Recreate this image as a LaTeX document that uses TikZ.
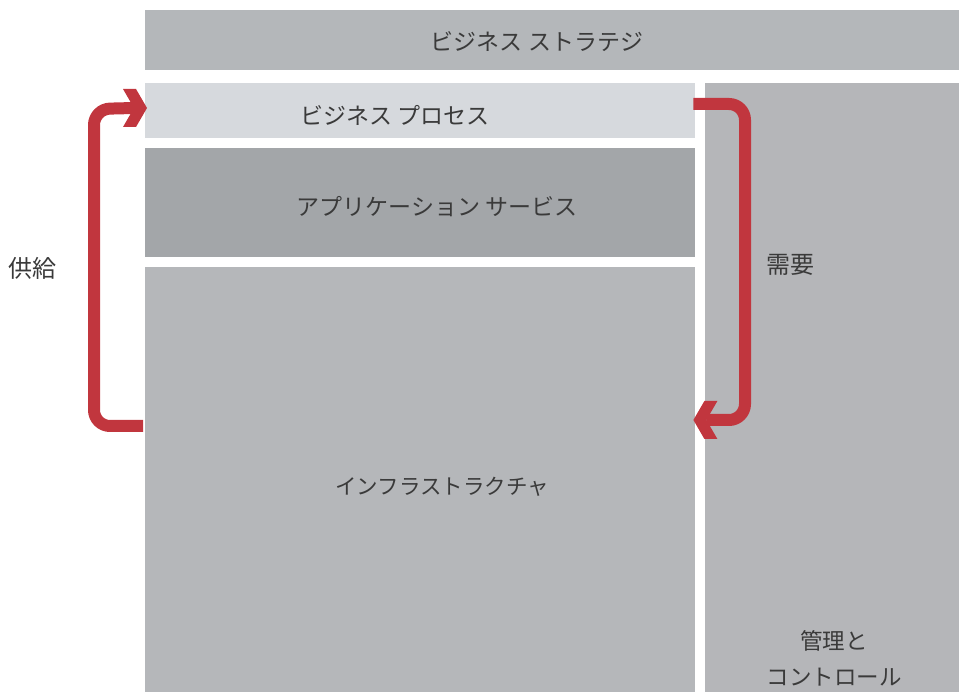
\documentclass[tikz,border=0pt]{standalone}
\usepackage{fontspec}
\newfontfamily\jpfont{Noto Sans CJK JP}
\usetikzlibrary{calc}
\definecolor{cTop}{HTML}{B4B7BA}
\definecolor{cProc}{HTML}{D6D9DD}
\definecolor{cApp}{HTML}{A3A6A9}
\definecolor{cInfra}{HTML}{B5B7BA}
\definecolor{cRight}{HTML}{B5B6B9}
\definecolor{cRed}{HTML}{C1363E}
\definecolor{cText}{HTML}{3A3A3A}
\tikzset{
  box/.style={draw=none, anchor=north west, inner sep=0pt},
  lbl/.style={font=\jpfont\fontsize{23pt}{36pt}\selectfont, text=cText, inner sep=0pt},
  midlbl/.style={font=\jpfont\fontsize{21.5pt}{36pt}\selectfont, text=cText, inner sep=0pt},
  biglbl/.style={font=\jpfont\fontsize{24pt}{30pt}\selectfont, text=cText, inner sep=0pt},
  flow/.style={draw=cRed, line width=12pt, rounded corners=16pt},
  headr/.style={fill=cRed, draw=none}
}
\begin{document}
\begin{tikzpicture}[x=1pt,y=-1pt]
\useasboundingbox (0,0) rectangle (959,692);
% boxes
\node[box, fill=cTop, minimum width=814pt, minimum height=60pt] (strat) at (145,10) {};
\node[box, fill=cProc, minimum width=550pt, minimum height=55pt] (proc) at (145,83) {};
\node[box, fill=cApp, minimum width=550pt, minimum height=109pt] (app) at (145,148) {};
\node[box, fill=cInfra, minimum width=550pt, minimum height=425pt] (infra) at (145,267) {};
\node[box, fill=cRight, minimum width=254pt, minimum height=609pt] (mgmt) at (705,83) {};
% labels
\node[lbl] (tstrat) at (537,42) {ビジネス ストラテジ};
\node[lbl] (tproc) at (395,115) {ビジネス プロセス};
\node[lbl] (tapp) at (437,207) {アプリケーション サービス};
\node[midlbl] (tinfra) at (442,487) {インフラストラクチャ};
\node[biglbl] (tsup) at (33,268) {供給};
\node[biglbl] (tdem) at (790,265) {需要};
\node[midlbl, font=\jpfont\fontsize{22.5pt}{36pt}\selectfont, align=center] (tmgmt) at (834,658) {管理と\\コントロール};
% supply arrow (infra -> process)
\coordinate (s0) at ($(infra.north west)+(-2,159)$);
\coordinate (s1) at ($(proc.north west)+(-51,26)$);
\coordinate (stip) at ($(proc.north west)+(2,25)$);
\draw[flow] (s0) -- (s0 -| s1) -- (s1) -- ($(stip)+(-13,0)$);
\fill[headr] (stip) -- ++(-11,-19) -- ++(-13,0) -- ++(11,19) -- ++(-11,19) -- ++(13,0) -- cycle;
% demand arrow (process -> infra)
\coordinate (d0) at ($(proc.north east)+(-2,21)$);
\coordinate (d1) at ($(mgmt.north west)+(40,21)$);
\coordinate (dtip) at ($(infra.north east)+(-2,153)$);
\draw[flow] (d0) -- (d1) -- (d1 |- dtip) -- ($(dtip)+(13,0)$);
\fill[headr] (dtip) -- ++(11,-19) -- ++(13,0) -- ++(-11,19) -- ++(11,19) -- ++(-13,0) -- cycle;
\end{tikzpicture}
\end{document}
